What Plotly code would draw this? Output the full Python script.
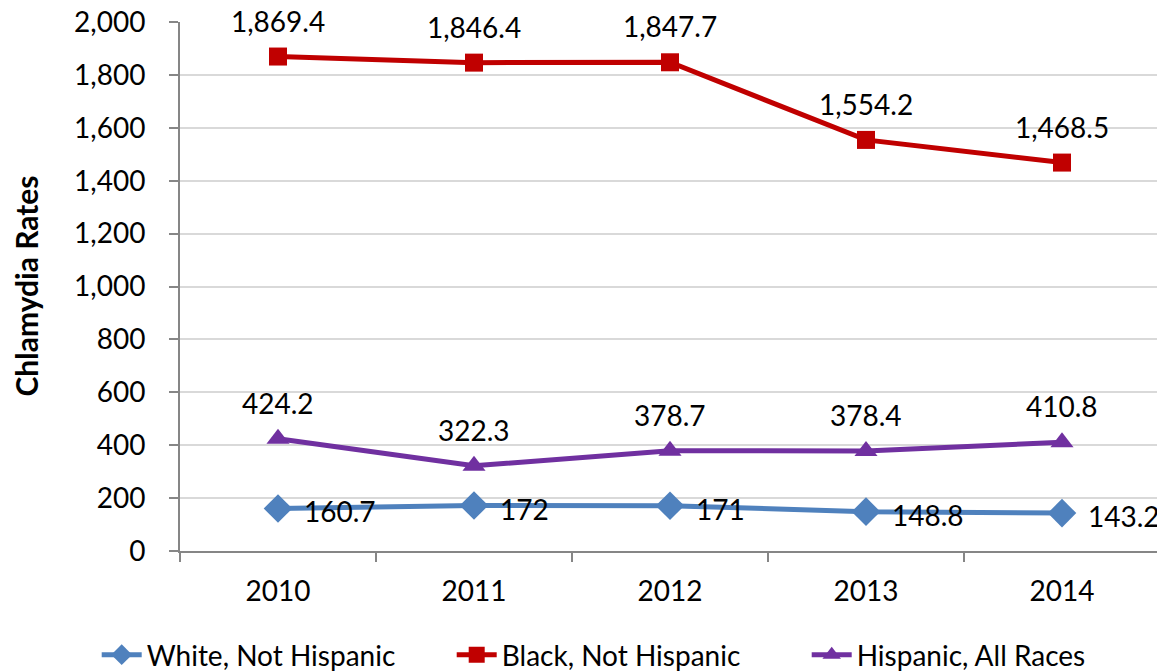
import plotly.graph_objects as go

years = ["2010", "2011", "2012", "2013", "2014"]
white = [160.7, 172, 171, 148.8, 143.2]
black = [1869.4, 1846.4, 1847.7, 1554.2, 1468.5]
hispanic = [424.2, 322.3, 378.7, 378.4, 410.8]

white_labels = ["160.7", "172", "171", "148.8", "143.2"]
black_labels = ["1,869.4", "1,846.4", "1,847.7", "1,554.2", "1,468.5"]
hispanic_labels = ["424.2", "322.3", "378.7", "378.4", "410.8"]

FONT = "Lato, Open Sans, sans-serif"

fig = go.Figure()

fig.add_trace(go.Scatter(
    x=years, y=white, name="White, Not Hispanic", mode="lines+markers",
    line=dict(color="#4F81BD", width=5),
    marker=dict(symbol="diamond", size=22, color="#4F81BD"),
))
fig.add_trace(go.Scatter(
    x=years, y=black, name="Black, Not Hispanic", mode="lines+markers",
    line=dict(color="#C00000", width=5),
    marker=dict(symbol="square", size=18, color="#C00000"),
))
fig.add_trace(go.Scatter(
    x=years, y=hispanic, name="Hispanic, All Races", mode="lines+markers",
    line=dict(color="#7030A0", width=5),
    marker=dict(symbol="triangle-up", size=20, color="#7030A0"),
))

# data labels
for i, (y, t) in enumerate(zip(white, white_labels)):
    fig.add_annotation(x=i, y=y, xref="x", yref="y", text=t, showarrow=False,
                       xanchor="left", yanchor="middle", xshift=24, yshift=-3,
                       font=dict(size=28, color="black", family=FONT))
for vals, labels in [(black, black_labels), (hispanic, hispanic_labels)]:
    for i, (y, t) in enumerate(zip(vals, labels)):
        fig.add_annotation(x=i, y=y, xref="x", yref="y", text=t, showarrow=False,
                           xanchor="center", yanchor="middle", yshift=36,
                           font=dict(size=28, color="black", family=FONT))

# y axis title (page has an 8px body offset, plot starts at x=172 in figure coords)
fig.add_annotation(x=-155 / 980, y=0.5, xref="paper", yref="paper",
                   text="<b>Chlamydia Rates</b>", showarrow=False, textangle=-90,
                   xanchor="center", yanchor="middle",
                   font=dict(size=30, color="black", family=FONT))

fig.update_layout(
    width=1157,
    height=664,
    margin={"r": 5, "t": 14, "l": 172, "b": 121, "autoexpand": False},
    plot_bgcolor="white",
    paper_bgcolor="white",
    font=dict(family=FONT, size=28, color="black"),
    showlegend=True,
    legend=dict(orientation="h", x=-0.085, xanchor="left", y=-104 / 529, yanchor="middle",
                font=dict(size=28), itemwidth=40, entrywidth=300, tracegroupgap=0),
    xaxis=dict(
        type="category", range=[-0.5, 4.5], automargin=False,
        showline=True, linecolor="#868686", linewidth=2,
        ticks="outside", tickson="boundaries", ticklen=9, tickcolor="#868686", tickwidth=2,
        showgrid=False, tickfont=dict(size=28), ticklabelstandoff=14,
    ),
    yaxis=dict(
        range=[0, 2000], dtick=200, tickformat=",", automargin=False,
        showline=True, linecolor="#868686", linewidth=2,
        ticks="outside", ticklen=9, tickcolor="#868686", tickwidth=2,
        showgrid=True, gridcolor="#D9D9D9", gridwidth=2,
        zeroline=False, tickfont=dict(size=28), ticklabelstandoff=18,
        ticklabeloverflow="allow",
    ),
)

fig.write_html("out.html")
